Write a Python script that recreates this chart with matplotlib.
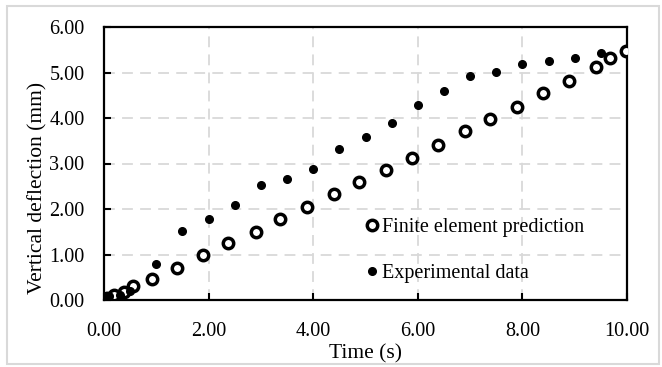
import matplotlib.pyplot as plt
from matplotlib.patches import Rectangle

# Finite element prediction (open circles)
fe_time = [0.05, 0.2, 0.38, 0.55, 0.92, 1.40, 1.89, 2.37, 2.91, 3.37, 3.89,
           4.40, 4.88, 5.39, 5.89, 6.39, 6.90, 7.38, 7.90, 8.39, 8.89, 9.41,
           9.67, 9.98]
fe_defl = [0.04, 0.10, 0.17, 0.30, 0.47, 0.71, 0.99, 1.26, 1.50, 1.77, 2.05,
           2.32, 2.59, 2.86, 3.13, 3.41, 3.71, 3.98, 4.25, 4.56, 4.82, 5.13,
           5.31, 5.48]

# Experimental data (filled dots)
exp_time = [0.05, 0.1, 0.3, 0.5, 1.0, 1.5, 2.0, 2.5, 3.0, 3.5, 4.0, 4.5, 5.0,
            5.5, 6.0, 6.5, 7.0, 7.5, 8.0, 8.5, 9.0, 9.5]
exp_defl = [0.05, 0.08, 0.12, 0.20, 0.80, 1.51, 1.78, 2.08, 2.53, 2.67, 2.87,
            3.31, 3.58, 3.89, 4.29, 4.59, 4.93, 5.01, 5.18, 5.25, 5.31, 5.42]

x_ticks = [0, 2, 4, 6, 8, 10]
y_ticks = [0, 1, 2, 3, 4, 5, 6]

plt.rcParams['font.family'] = ['Liberation Serif', 'DejaVu Serif']

fig = plt.figure(figsize=(6.62, 3.67), dpi=100)
fig.patches.append(Rectangle((7 / 662, 3 / 367), 652 / 662, 358 / 367,
                             transform=fig.transFigure, fill=False,
                             edgecolor='#d9d9d9', linewidth=1.5))
ax = fig.add_axes([104 / 662, 67 / 367, 523 / 662, 273 / 367])

ax.plot(fe_time, fe_defl, 'o', ms=7.5, mfc='white', mec='black', mew=2.5,
        label='Finite element prediction', zorder=3)
ax.plot(exp_time, exp_defl, 'o', ms=5.5, color='black',
        label='Experimental data', zorder=4)

ax.set_xlim(0, 10)
ax.set_ylim(0, 6)
ax.set_xticks(x_ticks)
ax.set_yticks(y_ticks)
ax.set_xticklabels([f'{v:.2f}' for v in x_ticks])
ax.set_yticklabels([f'{v:.2f}' for v in y_ticks])
ax.tick_params(direction='in', length=5, width=1.5, labelsize=14.5,
               colors='black')
ax.tick_params(axis='x', pad=16)
ax.tick_params(axis='y', pad=14)

ax.grid(True, color='#d9d9d9', linestyle=(0, (6, 4)), linewidth=1.3)
ax.set_axisbelow(True)
for s in ax.spines.values():
    s.set_linewidth(1.6)
    s.set_color('black')

ax.set_xlabel('Time (s)', fontsize=15.5, labelpad=2)
ax.set_ylabel('Vertical deflection (mm)', fontsize=15.5)
ax.yaxis.set_label_coords(-0.108, 0.41)

ax.legend(loc='upper left', bbox_to_anchor=(0.50, 0.30), frameon=False,
          fontsize=14.5, handlelength=0.6, handletextpad=0.2,
          labelspacing=1.35, borderpad=0, borderaxespad=0)

fig.savefig('out.png', dpi=100)
